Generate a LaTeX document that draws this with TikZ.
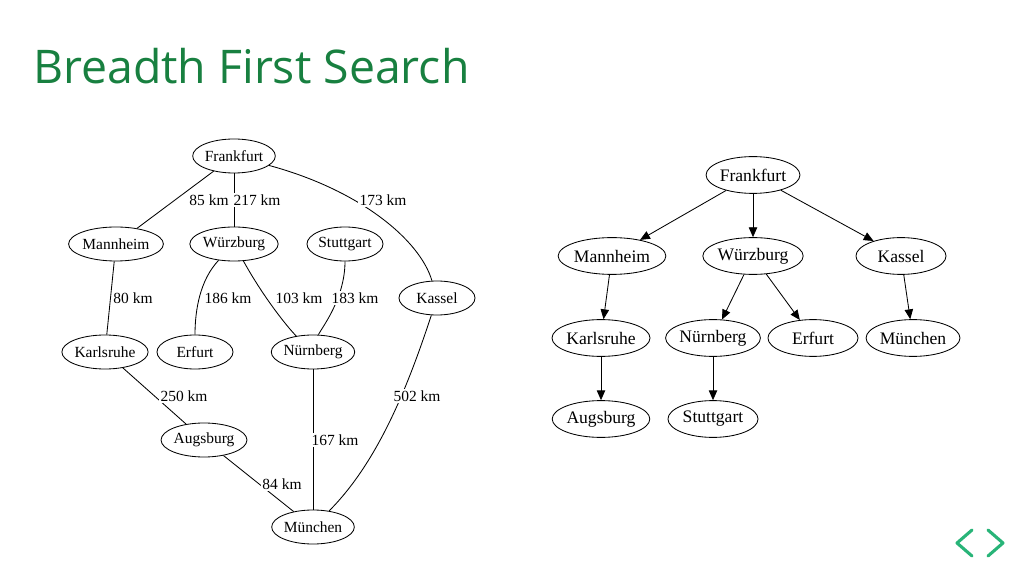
\documentclass[tikz,border=0pt]{standalone}
\usepackage{fontspec}
\setmainfont{Liberation Serif}
\newfontfamily\titlefont{Open Sans}
\usetikzlibrary{shapes.geometric,arrows.meta}
\definecolor{titlegreen}{RGB}{24,128,64}
\definecolor{navgreen}{RGB}{40,180,120}
\begin{document}
\begin{tikzpicture}[x=0.025cm,y=-0.025cm,line width=0.6pt,
    city/.style={draw,ellipse,minimum width=1.9cm,minimum height=0.85cm,inner sep=0pt,font=\fontsize{11}{12}\selectfont},
    tcity/.style={draw,ellipse,minimum width=2.25cm,minimum height=0.92cm,inner sep=0pt,font=\fontsize{12.5}{13}\selectfont},
    dist/.style={font=\fontsize{11}{12}\selectfont,fill=white,inner sep=1pt},
    tree/.style={-{Triangle[length=7pt,width=6pt]}}]
    \useasboundingbox (0,0) rectangle (1024,576);
    \node[anchor=west,text=titlegreen,font=\titlefont\fontsize{33}{38}\selectfont] (title) at (28,66) {Breadth First Search};
    % left: map with distances
    \node[city] (F) at (234,156) {Frankfurt};
    \node[city] (Ma) at (116,244) {Mannheim};
    \node[city] (W) at (234,244) {Würzburg};
    \node[city] (S) at (345,244) {Stuttgart};
    \node[city] (Ka) at (437,298) {Kassel};
    \node[city] (Kr) at (105,352) {Karlsruhe};
    \node[city] (E) at (195,352) {Erfurt};
    \node[city] (N) at (313,352) {Nürnberg};
    \node[city] (A) at (204,440) {Augsburg};
    \node[city] (Mu) at (313,527) {München};
    \draw (F) -- (Ma);
    \draw (F) -- (W);
    \draw (F) .. controls (360,190) and (420,240) .. (Ka);
    \draw (Ma) -- (Kr);
    \draw (W) .. controls (200,280) and (195,310) .. (E);
    \draw (W) .. controls (265,300) and (290,330) .. (N);
    \draw (S) .. controls (345,300) and (320,330) .. (N);
    \draw (Kr) -- (A);
    \draw (A) -- (Mu);
    \draw (N) -- (Mu);
    \draw (Ka) .. controls (410,380) and (380,460) .. (Mu);
    \node[dist] (d1) at (209,200) {85 km};
    \node[dist] (d2) at (257,200) {217 km};
    \node[dist] (d3) at (383,200) {173 km};
    \node[dist] (d4) at (133,298) {80 km};
    \node[dist] (d5) at (228,298) {186 km};
    \node[dist] (d6) at (299,298) {103 km};
    \node[dist] (d7) at (355,298) {183 km};
    \node[dist] (d8) at (184,396) {250 km};
    \node[dist] (d9) at (335,440) {167 km};
    \node[dist] (d10) at (417,396) {502 km};
    \node[dist] (d11) at (282,484) {84 km};
    % right: search tree
    \node[tcity] (tF) at (753,175) {Frankfurt};
    \node[tcity] (tMa) at (612,256) {Mannheim};
    \node[tcity] (tW) at (753,256) {Würzburg};
    \node[tcity] (tKa) at (901,256) {Kassel};
    \node[tcity] (tKr) at (601,338) {Karlsruhe};
    \node[tcity] (tN) at (713,338) {Nürnberg};
    \node[tcity] (tE) at (813,338) {Erfurt};
    \node[tcity] (tMu) at (913,338) {München};
    \node[tcity] (tA) at (601,419) {Augsburg};
    \node[tcity] (tS) at (713,419) {Stuttgart};
    \draw[tree] (tF) -- (tMa);
    \draw[tree] (tF) -- (tW);
    \draw[tree] (tF) -- (tKa);
    \draw[tree] (tMa) -- (tKr);
    \draw[tree] (tW) -- (tN);
    \draw[tree] (tW) -- (tE);
    \draw[tree] (tKa) -- (tMu);
    \draw[tree] (tKr) -- (tA);
    \draw[tree] (tN) -- (tS);
    % navigation arrows
    \draw[navgreen,line width=2.2pt,line cap=round,line join=round] (972,530) -- (957,543) -- (972,556);
    \draw[navgreen,line width=2.2pt,line cap=round,line join=round] (988,530) -- (1003,543) -- (988,556);
\end{tikzpicture}
\end{document}
